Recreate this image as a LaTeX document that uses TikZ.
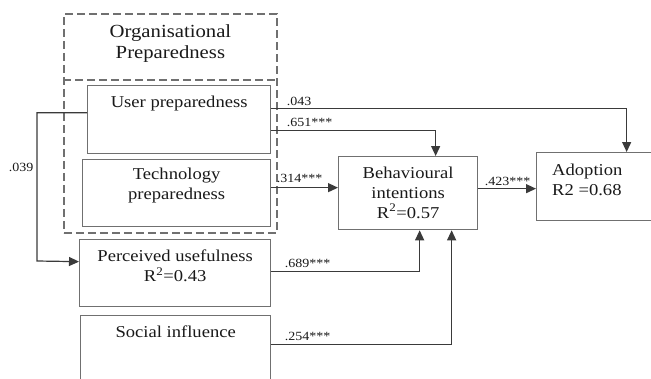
\documentclass[tikz,border=0pt]{standalone}
\usepackage{fontspec}
\setmainfont{Liberation Serif}[FakeStretch=1.12]
\usetikzlibrary{arrows.meta}
\definecolor{boxgray}{HTML}{707070}
\definecolor{linegray}{HTML}{3A3A3A}

\begin{document}
\begin{tikzpicture}[x=1pt,y=-1pt,
  box/.style={draw=boxgray, line width=1.3pt, anchor=north west, inner sep=0pt},
  orgline/.style={draw=boxgray, line width=1.8pt, dash pattern=on 8pt off 4pt},
  boxtext/.style={inner sep=0pt, align=center, font=\fontsize{16.6}{20}\selectfont, text=black!90},
  lbl/.style={inner sep=0pt, font=\fontsize{12.5}{14}\selectfont, text=black!90},
  link/.style={draw=linegray, line width=1.2pt},
  arr/.style={link, -{Triangle[length=10pt,width=9pt]}}
]
  \useasboundingbox (0,0) rectangle (651,378);
  \clip (0,0) rectangle (651,378);

  % Organisational preparedness (dashed)
  \node[orgline, anchor=north west, inner sep=0pt, minimum width=213pt, minimum height=219pt,
    label={[boxtext, font=\fontsize{18.5}{21}\selectfont, anchor=north, yshift=-11pt]north:Organisational\\Preparedness}] (org) at (63,13) {};
  \draw[orgline] ([yshift=-67pt]org.north west) -- ([yshift=-67pt]org.north east);

  % Constructs
  \node[box, minimum width=183pt, minimum height=68pt,
    label={[boxtext, anchor=north, yshift=-10.5pt]north:User preparedness}] (user) at (87,85) {};
  \node[box, minimum width=188pt, minimum height=67pt,
    label={[boxtext, anchor=north, yshift=-8.5pt]north:Technology\\preparedness}] (tech) at (82,159) {};
  \node[box, minimum width=191pt, minimum height=67pt,
    label={[boxtext, anchor=north, yshift=-10.5pt]north:Perceived usefulness\\R\textsuperscript{2}=0.43}] (pu) at (79,239) {};
  \node[box, minimum width=190pt, minimum height=80pt,
    label={[boxtext, anchor=north, yshift=-10.5pt]north:Social influence}] (si) at (80,315) {};
  \node[box, minimum width=139pt, minimum height=73pt,
    label={[boxtext, anchor=north, yshift=-10.5pt]north:Behavioural\\intentions\\R\textsuperscript{2}=0.57}] (bi) at (338,156) {};
  \node[box, minimum width=154pt, minimum height=68pt,
    label={[boxtext, align=left, anchor=north west, xshift=16pt, yshift=-11.5pt]north west:Adoption\\R2 =0.68}] (adopt) at (536,152) {};

  % Paths
  \coordinate (c039) at (37,261);
  \draw[arr] ([yshift=7pt]user.west) -| (c039)
    node[lbl, pos=0.70, anchor=base east, xshift=-3pt] {.039}
    -- ([yshift=11.5pt]pu.west);
  \draw[arr] ([yshift=11pt]user.east) -| ([xshift=13pt]adopt.north)
    node[lbl, pos=0, anchor=base west, xshift=15pt, yshift=3pt] {.043};
  \draw[arr] ([yshift=-11pt]user.east) -| ([xshift=27.5pt]bi.north)
    node[lbl, pos=0, anchor=base west, xshift=15pt, yshift=4pt] {.651***};
  \draw[arr] ([yshift=5.5pt]tech.east) -- ([yshift=5.5pt]bi.west)
    node[lbl, pos=0, anchor=base west, xshift=5pt, yshift=5pt] {.314***};
  \draw[arr] ([yshift=4.5pt]bi.east) -- ([yshift=-2pt]adopt.west)
    node[lbl, pos=0, anchor=base west, xshift=6pt, yshift=3pt] {.423***};
  \draw[arr] ([yshift=1.5pt]pu.east) -| ([xshift=11.5pt]bi.south)
    node[lbl, pos=0, anchor=base west, xshift=13pt, yshift=4pt] {.689***};
  \draw[arr] ([yshift=11pt]si.east) -| ([xshift=43.5pt]bi.south)
    node[lbl, pos=0, anchor=base west, xshift=13pt, yshift=4pt] {.254***};
\end{tikzpicture}
\end{document}
